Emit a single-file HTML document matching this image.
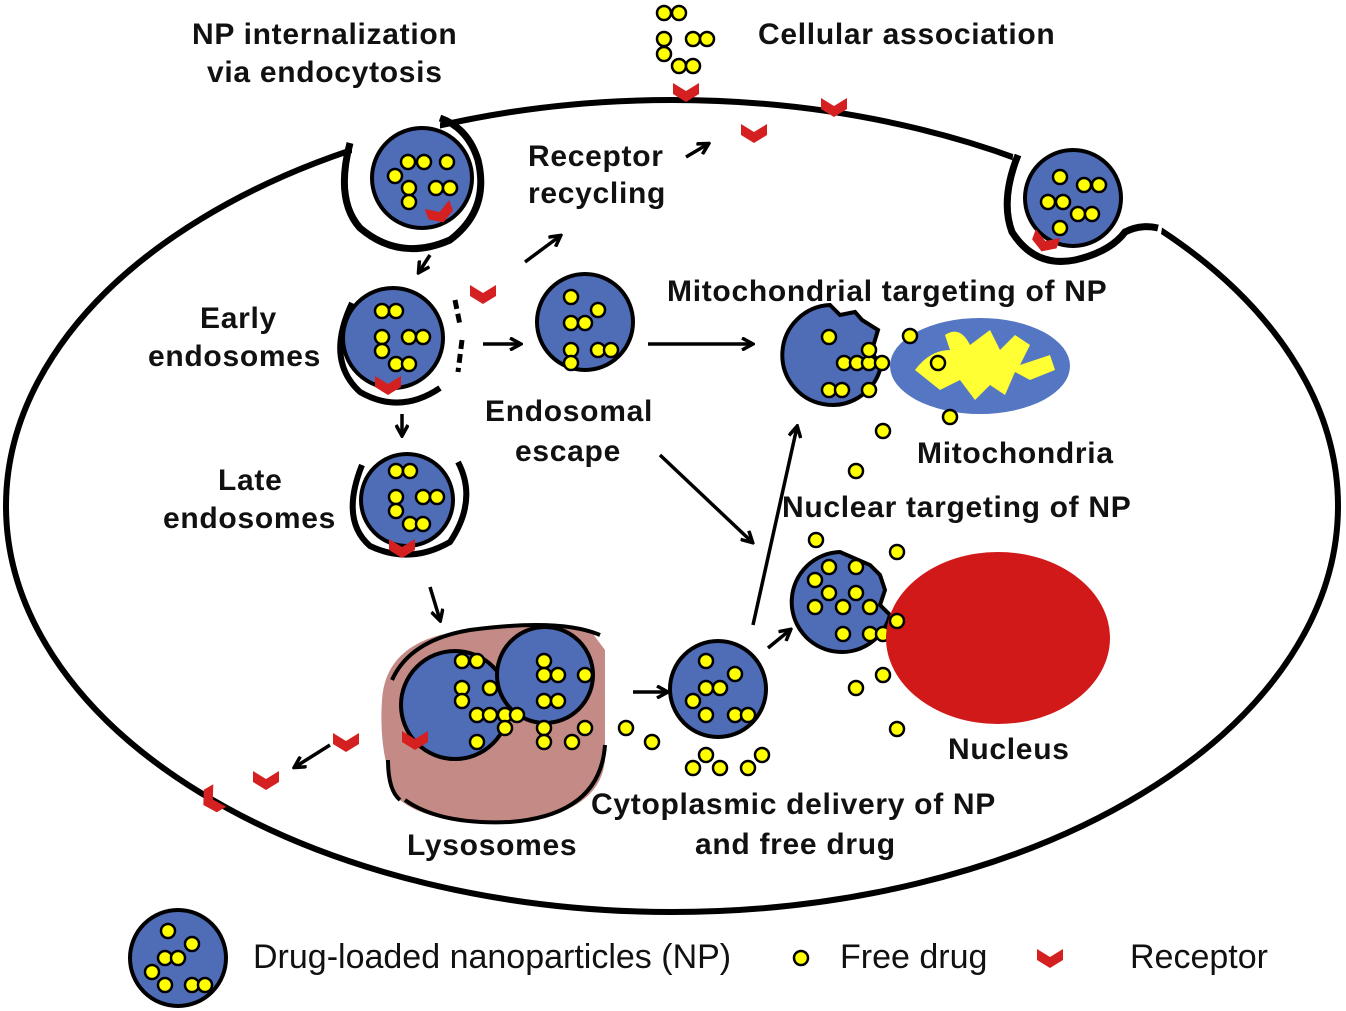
<!DOCTYPE html>
<html><head><style>
html,body{margin:0;padding:0;background:#fff;}
svg{display:block;}
text{font-family:"Liberation Sans",Arial,sans-serif;font-weight:bold;font-size:30px;fill:#111;letter-spacing:0.7px;}
.n{font-weight:normal;font-size:34px;letter-spacing:0;}
.b{fill:#4f6cb6;stroke:#000;stroke-width:4;}
.d{fill:#ffff00;stroke:#000;stroke-width:2.5;}
.r{fill:#d42020;}
.a{stroke:#000;fill:none;}
</style></head><body>
<svg width="1346" height="1011" viewBox="0 0 1346 1011" xmlns="http://www.w3.org/2000/svg">
<defs>
<g id="dt"><circle r="7" class="d"/></g>
<path id="rc" d="M-13,-9 L0,-1 L13,-9 L13,2 L0,10 L-13,2 Z" class="r"/>
<marker id="ah" markerWidth="14" markerHeight="14" refX="11" refY="7" orient="auto" markerUnits="userSpaceOnUse"><path d="M1,1 L12,7 L1,13" fill="none" stroke="#000" stroke-width="3.5"/></marker>
</defs>
<ellipse cx="672" cy="506" rx="666" ry="406" fill="none" stroke="#000" stroke-width="6"/>
<rect x="352" y="95" width="88" height="60" fill="#fff"/>
<path d="M1015,140 L1165,210 L1160,240 L1010,180Z" fill="#fff"/>
<path d="M378,735 L378,800 L410,800 L410,735Z" fill="#fff"/>

<path d="M350,143 Q335,200 360,228 Q400,262 450,240 Q490,210 478,160 Q468,128 440,118" class="a" stroke-width="7"/>
<circle cx="422" cy="178" r="50" class="b"/>
<use href="#dt" x="408" y="162"/><use href="#dt" x="424" y="162"/><use href="#dt" x="447" y="162"/>
<use href="#dt" x="395" y="176"/><use href="#dt" x="409" y="188"/><use href="#dt" x="436" y="188"/><use href="#dt" x="450" y="188"/><use href="#dt" x="409" y="202"/>
<use href="#rc" x="440" y="213" transform="rotate(-20 440 213)"/>

<path d="M1018,155 Q1000,200 1012,232 Q1035,268 1075,260 Q1110,252 1125,232 Q1140,224 1158,228" class="a" stroke-width="7"/>
<circle cx="1073" cy="198" r="48" class="b"/>
<use href="#dt" x="1060" y="177"/><use href="#dt" x="1084" y="185"/><use href="#dt" x="1099" y="185"/>
<use href="#dt" x="1048" y="202"/><use href="#dt" x="1063" y="202"/><use href="#dt" x="1078" y="214"/><use href="#dt" x="1092" y="214"/><use href="#dt" x="1060" y="228"/>
<use href="#rc" x="1045" y="242" transform="rotate(20 1045 242)"/>

<use href="#dt" x="664" y="13"/><use href="#dt" x="679" y="13"/>
<use href="#dt" x="664" y="39"/><use href="#dt" x="664" y="54"/><use href="#dt" x="693" y="39"/><use href="#dt" x="707" y="39"/>
<use href="#dt" x="679" y="66"/><use href="#dt" x="693" y="66"/>
<use href="#rc" x="686" y="92"/><use href="#rc" x="834" y="107"/><use href="#rc" x="754" y="133"/>
<use href="#rc" x="483" y="294"/>

<text x="192" y="44">NP internalization</text>
<text x="207" y="82">via endocytosis</text>
<text x="758" y="44">Cellular association</text>
<text x="528" y="166">Receptor</text>
<text x="528" y="203">recycling</text>
<text x="667" y="301">Mitochondrial targeting of NP</text>
<text x="200" y="328">Early</text>
<text x="148" y="366">endosomes</text>
<text x="485" y="421">Endosomal</text>
<text x="515" y="461">escape</text>
<text x="917" y="463">Mitochondria</text>
<text x="218" y="490">Late</text>
<text x="163" y="528">endosomes</text>
<text x="782" y="517">Nuclear targeting of NP</text>
<text x="948" y="759">Nucleus</text>
<text x="591" y="814">Cytoplasmic delivery of NP</text>
<text x="695" y="854">and free drug</text>
<text x="407" y="855">Lysosomes</text>

<path d="M686,157 L708,144" class="a" stroke-width="3.5" marker-end="url(#ah)"/>
<path d="M430,255 L419,272" class="a" stroke-width="3.5" marker-end="url(#ah)"/>
<path d="M525,262 L560,236" class="a" stroke-width="3.5" marker-end="url(#ah)"/>
<path d="M483,344 L520,344" class="a" stroke-width="3.5" marker-end="url(#ah)"/>
<path d="M648,344 L752,344" class="a" stroke-width="3.5" marker-end="url(#ah)"/>
<path d="M402,414 L402,435" class="a" stroke-width="3.5" marker-end="url(#ah)"/>
<path d="M660,455 L752,542" class="a" stroke-width="3.5" marker-end="url(#ah)"/>
<path d="M753,625 L797,427" class="a" stroke-width="3.5" marker-end="url(#ah)"/>
<path d="M768,648 L790,630" class="a" stroke-width="3.5" marker-end="url(#ah)"/>
<path d="M430,587 L440,620" class="a" stroke-width="3.5" marker-end="url(#ah)"/>
<path d="M633,692 L667,692" class="a" stroke-width="3.5" marker-end="url(#ah)"/>
<path d="M330,745 L295,767" class="a" stroke-width="3.5" marker-end="url(#ah)"/>

<path d="M352,303 Q325,360 360,392 Q400,415 440,388" class="a" stroke-width="6"/>
<path d="M455,300 L460,325 M462,340 L458,372" class="a" stroke-width="5" stroke-dasharray="9 5"/>
<circle cx="393" cy="338" r="50" class="b"/>
<use href="#dt" x="382" y="311"/><use href="#dt" x="396" y="311"/>
<use href="#dt" x="382" y="337"/><use href="#dt" x="409" y="337"/><use href="#dt" x="423" y="337"/>
<use href="#dt" x="382" y="351"/><use href="#dt" x="396" y="364"/><use href="#dt" x="409" y="364"/>
<use href="#rc" x="388" y="385"/>

<circle cx="585" cy="322" r="48" class="b"/>
<use href="#dt" x="571" y="297"/><use href="#dt" x="598" y="310"/><use href="#dt" x="571" y="323"/><use href="#dt" x="585" y="323"/>
<use href="#dt" x="571" y="350"/><use href="#dt" x="598" y="350"/><use href="#dt" x="611" y="350"/><use href="#dt" x="571" y="363"/>

<path d="M362,465 Q340,520 370,546 Q410,565 450,542 Q478,500 458,462" class="a" stroke-width="6"/>
<circle cx="407" cy="500" r="46" class="b"/>
<use href="#dt" x="396" y="471"/><use href="#dt" x="410" y="471"/>
<use href="#dt" x="396" y="497"/><use href="#dt" x="423" y="497"/><use href="#dt" x="437" y="497"/>
<use href="#dt" x="396" y="511"/><use href="#dt" x="410" y="524"/><use href="#dt" x="423" y="524"/>
<use href="#rc" x="402" y="548"/>

<path d="M382,700 Q385,650 440,635 Q520,618 590,630 L605,650 L605,760 Q600,815 510,822 Q430,825 400,800 Q378,760 382,700Z" fill="#c48b86"/>
<path d="M392,680 Q410,640 470,630 Q560,618 600,635 M605,745 Q600,815 510,822 Q440,825 405,800 M388,760 Q388,790 400,800" class="a" stroke-width="4"/>
<circle cx="455" cy="705" r="54" class="b"/>
<circle cx="545" cy="675" r="48" class="b"/>
<use href="#dt" x="462" y="661"/><use href="#dt" x="477" y="661"/>
<use href="#dt" x="462" y="688"/><use href="#dt" x="490" y="688"/><use href="#dt" x="462" y="701"/>
<use href="#dt" x="477" y="715"/><use href="#dt" x="490" y="715"/><use href="#dt" x="505" y="715"/><use href="#dt" x="517" y="715"/>
<use href="#dt" x="505" y="728"/><use href="#dt" x="477" y="742"/>
<use href="#dt" x="544" y="661"/><use href="#dt" x="544" y="675"/><use href="#dt" x="558" y="675"/><use href="#dt" x="585" y="675"/>
<use href="#dt" x="544" y="701"/><use href="#dt" x="558" y="701"/><use href="#dt" x="544" y="728"/><use href="#dt" x="544" y="742"/><use href="#dt" x="572" y="742"/><use href="#dt" x="585" y="728"/>
<use href="#rc" x="415" y="740"/>
<use href="#rc" x="346" y="742"/><use href="#rc" x="266" y="780"/>
<use href="#rc" x="212" y="800" transform="rotate(60 212 800)"/>
<use href="#dt" x="626" y="728"/><use href="#dt" x="652" y="742"/>

<circle cx="718" cy="689" r="48" class="b"/>
<use href="#dt" x="706" y="661"/><use href="#dt" x="735" y="674"/><use href="#dt" x="706" y="688"/><use href="#dt" x="720" y="688"/>
<use href="#dt" x="693" y="701"/><use href="#dt" x="706" y="715"/><use href="#dt" x="735" y="715"/><use href="#dt" x="748" y="715"/>
<use href="#dt" x="693" y="768"/><use href="#dt" x="706" y="755"/><use href="#dt" x="720" y="768"/><use href="#dt" x="748" y="768"/><use href="#dt" x="762" y="755"/>

<path d="M830,305 A50,50 0 1,0 880,370 L872,350 L878,330 L862,320 L855,312 L840,315Z" class="b"/>
<use href="#dt" x="829" y="337"/><use href="#dt" x="844" y="363"/><use href="#dt" x="857" y="363"/><use href="#dt" x="869" y="363"/><use href="#dt" x="882" y="363"/>
<use href="#dt" x="869" y="350"/><use href="#dt" x="869" y="390"/><use href="#dt" x="829" y="390"/><use href="#dt" x="842" y="390"/>
<ellipse cx="980" cy="366" rx="90" ry="48" fill="#5576c2"/>
<path d="M915,370 Q930,350 950,350 L945,335 Q960,325 970,345 L990,330 L1000,350 L1015,335 L1030,345 L1020,365 L1050,355 L1055,370 L1030,380 L1015,372 L1005,395 L990,385 L975,400 L960,380 L940,390 Z" fill="#ffff33"/>
<use href="#dt" x="910" y="336"/><use href="#dt" x="938" y="363"/><use href="#dt" x="950" y="417"/><use href="#dt" x="883" y="431"/><use href="#dt" x="856" y="471"/>

<path d="M840,552 A50,50 0 1,0 890,615 L880,605 L885,590 L880,575 L870,565 Z" class="b"/>
<use href="#dt" x="816" y="540"/><use href="#dt" x="897" y="552"/>
<use href="#dt" x="815" y="580"/><use href="#dt" x="829" y="567"/><use href="#dt" x="856" y="567"/><use href="#dt" x="829" y="593"/><use href="#dt" x="856" y="593"/>
<use href="#dt" x="843" y="607"/><use href="#dt" x="815" y="607"/><use href="#dt" x="870" y="607"/><use href="#dt" x="870" y="634"/><use href="#dt" x="843" y="634"/><use href="#dt" x="883" y="634"/>
<ellipse cx="998" cy="638" rx="112" ry="86" fill="#d21919"/>
<use href="#dt" x="897" y="621"/><use href="#dt" x="883" y="675"/><use href="#dt" x="856" y="688"/><use href="#dt" x="897" y="729"/>

<circle cx="178" cy="958" r="48" class="b"/>
<use href="#dt" x="168" y="931"/><use href="#dt" x="192" y="944"/><use href="#dt" x="165" y="958"/><use href="#dt" x="178" y="958"/>
<use href="#dt" x="152" y="972"/><use href="#dt" x="165" y="985"/><use href="#dt" x="192" y="985"/><use href="#dt" x="205" y="985"/>
<text class="n" x="253" y="968">Drug-loaded nanoparticles (NP)</text>
<use href="#dt" x="801" y="958"/>
<text class="n" x="840" y="968">Free drug</text>
<use href="#rc" x="1050" y="958"/>
<text class="n" x="1130" y="968">Receptor</text>
</svg>
</body></html>
